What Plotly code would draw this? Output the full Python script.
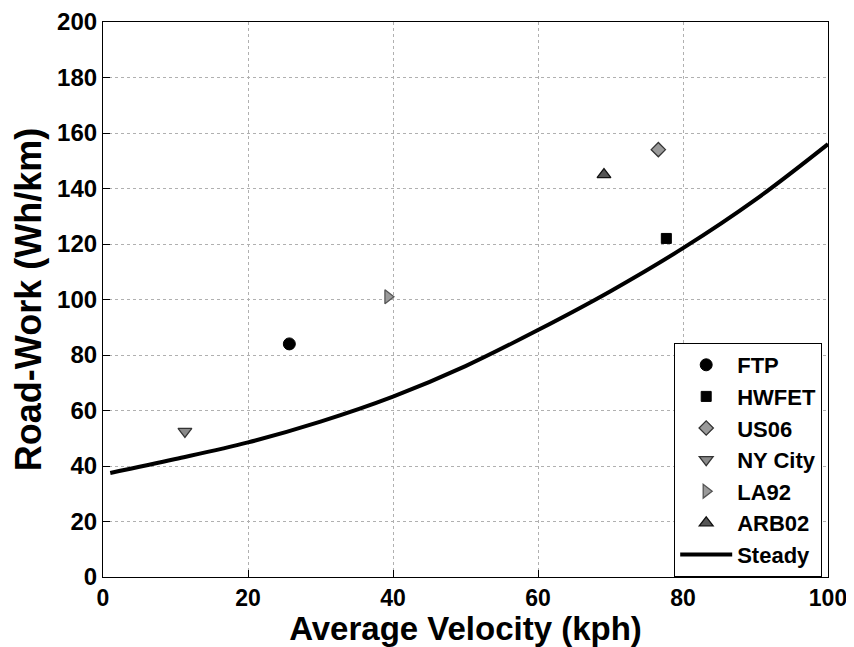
import plotly.graph_objects as go

# Drive cycles (average velocity kph, road-work Wh/km)
cycles = ["FTP", "HWFET", "US06", "NY City", "LA92", "ARB02"]
cycle_speed = [25.7, 77.7, 76.6, 11.3, 39.3, 69.1]
cycle_work = [84, 122, 154, 52.5, 101, 145]

# Steady-speed curve
steady_speed = [1, 10, 20, 30, 40, 50, 60, 70, 80, 90, 100]
steady_work = [37.5, 42.5, 48.5, 56, 65, 76, 89, 103, 118.5, 136, 156]

x_ticks = [0, 20, 40, 60, 80, 100]
y_ticks = [0, 20, 40, 60, 80, 100, 120, 140, 160, 180, 200]

styles = {
    "FTP": dict(symbol="circle", size=12, color="black", line=dict(color="black", width=1)),
    "HWFET": dict(symbol="square", size=10, color="black", line=dict(color="black", width=1)),
    "US06": dict(symbol="diamond", size=11, color="#9a9a9a", line=dict(color="#333", width=1.3)),
    "NY City": dict(symbol="triangle-down", size=12, color="#8a8a8a", line=dict(color="#333", width=1.3)),
    "LA92": dict(symbol="triangle-right", size=12, color="#9a9a9a", line=dict(color="#555", width=1.3)),
    "ARB02": dict(symbol="triangle-up", size=12, color="#555555", line=dict(color="#111", width=1.3)),
}

fig = go.Figure()
for name, vx, vy in zip(cycles, cycle_speed, cycle_work):
    fig.add_trace(go.Scatter(x=[vx], y=[vy], mode="markers", name=name, marker=styles[name]))

fig.add_trace(go.Scatter(x=steady_speed, y=steady_work, mode="lines", name="Steady",
                         line=dict(color="black", width=4, shape="spline")))

font_fam = "Liberation Sans, Arial, sans-serif"
axis_common = dict(showline=True, linecolor="black", linewidth=1.2, mirror=True,
                   ticks="inside", ticklen=7, tickcolor="black",
                   showgrid=True, gridcolor="#b0b0b0", griddash="dot", gridwidth=1,
                   zeroline=False, automargin=False, ticklabeloverflow="allow")

fig.update_layout(
    template="none",
    width=846, height=639,
    margin=dict(l=95, r=26, t=14, b=70),
    paper_bgcolor="white", plot_bgcolor="white",
    font=dict(family=font_fam, color="black"),
    xaxis=dict(range=[0, 100], tickvals=x_ticks, ticktext=[str(v) for v in x_ticks],
               tickfont=dict(family=font_fam, size=23, color="black", weight="bold"),
               title=dict(text="Average Velocity (kph)", standoff=10,
                          font=dict(family=font_fam, size=33, weight="bold")),
               **axis_common),
    yaxis=dict(range=[0, 200], tickvals=y_ticks, ticktext=[str(v) for v in y_ticks],
               tickfont=dict(family=font_fam, size=24, color="black", weight="bold"),
               title=dict(text="Road-Work (Wh/km)", standoff=6,
                          font=dict(family=font_fam, size=36, weight="bold")),
               **axis_common),
    legend=dict(x=0.992, y=0.0, xanchor="right", yanchor="bottom",
                bordercolor="black", borderwidth=1, bgcolor="white",
                font=dict(family=font_fam, size=22, weight="bold"),
                tracegroupgap=0, itemwidth=52),
    showlegend=True,
)

fig.write_html("out.html")
